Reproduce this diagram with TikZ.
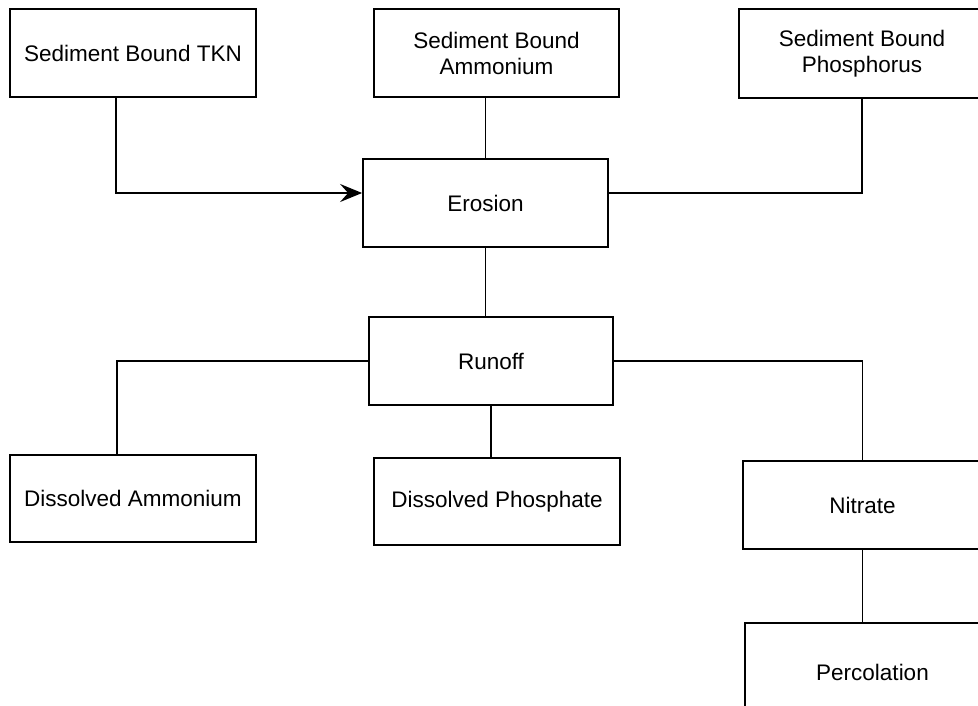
\documentclass[tikz,border=0pt]{standalone}
\usepackage{fontspec}
\setmainfont{Liberation Sans}
\usetikzlibrary{arrows.meta}
\begin{document}
\begin{tikzpicture}[x=1pt,y=-1pt,
  box/.style={draw=black,line width=1.8pt,rectangle,inner sep=0pt,align=center,
    font=\fontsize{22.5pt}{26pt}\selectfont},
  conn/.style={draw=black,line width=1.8pt},
  tip/.style={-{Stealth[length=22pt,width=18pt,inset=8pt]}}]
\useasboundingbox (0,0) rectangle (978,706);
\clip (0,0) rectangle (978,706);
\fill[white] (0,0) rectangle (978,706);
\node[box,minimum width=246pt,minimum height=88pt] (tkn) at (133,53) {Sediment Bound TKN};
\node[box,minimum width=245pt,minimum height=88pt] (amm) at (496.5,53) {Sediment Bound\\Ammonium};
\node[box,minimum width=246pt,minimum height=89pt] (phos) at (862,53.5) {Sediment Bound\\Phosphorus};
\node[box,minimum width=245pt,minimum height=88pt] (erosion) at (485.5,203) {Erosion};
\node[box,minimum width=244pt,minimum height=88pt] (runoff) at (491,361) {Runoff};
\node[box,minimum width=246pt,minimum height=87pt] (damm) at (133,498.5) {Dissolved Ammonium};
\node[box,minimum width=246pt,minimum height=87pt] (dphos) at (497,501.5) {Dissolved Phosphate};
\node[box,minimum width=239pt,minimum height=88pt] (nitrate) at (862.5,505) {Nitrate};
\node[box,minimum width=255pt,minimum height=98pt] (perc) at (872.5,672) {Percolation};
\draw[conn,tip] ([xshift=-17pt]tkn.south) |- ([yshift=10pt]erosion.west);
\draw[conn] (amm.south -| erosion.north) -- (erosion.north);
\draw[conn] (phos.south) |- ([yshift=10pt]erosion.east);
\draw[conn] (erosion.south) -- (erosion.south |- runoff.north);
\draw[conn] (runoff.west) -| ([xshift=-16pt]damm.north);
\draw[conn] (runoff.south) -- (runoff.south |- dphos.north);
\draw[conn] (runoff.east) -| (nitrate.north);
\draw[conn] (nitrate.south) -- (nitrate.south |- perc.north);
\end{tikzpicture}
\end{document}
